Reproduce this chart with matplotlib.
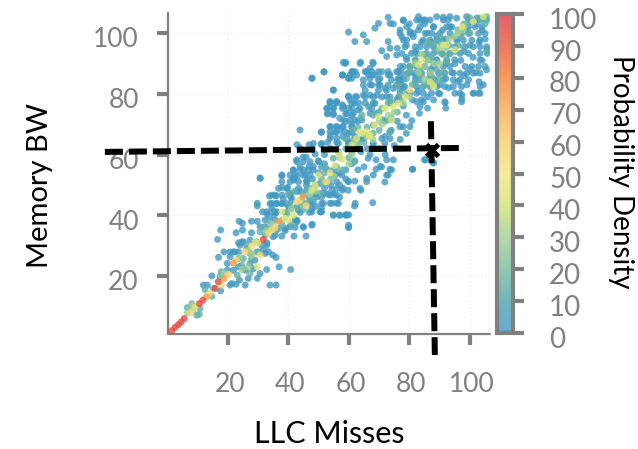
import numpy as np
import matplotlib
matplotlib.use("Agg")
import matplotlib.pyplot as plt
from matplotlib.colors import LinearSegmentedColormap
from matplotlib.transforms import ScaledTranslation

plt.rcParams['font.family'] = ['Lato', 'DejaVu Sans']

# points, grouped by the density colour they show
blue_density = 2
blue_pts = [
    (17.7,35.2),(16.7,32.1),(22.8,34.3),(24.9,35.2),(23.8,38.1),(24.9,37.4),(27.9,38.1),(29.8,38.1),(27.9,34.3),
    (32.9,41.2),(31.5,41.2),(29.8,44),(29.8,43.1),(33.8,46.4),(36,46.4),(30.7,52.3),(37.9,53.1),(37.9,49.2),(39.8,49.2),
    (41.9,51.6),(47.9,37.1),(45,36.3),(41.9,33.2),(37.9,33.2),(45.9,33.2),(54.9,40.1),(56.9,40.1),(58.9,40.1),(59.9,36),
    (53.8,44),(55.9,44),(50.8,41.2),(12,17.1),(13.3,17.1),(14.8,20.1),(17.7,15.2),(21.4,17.6),(20.8,17.1),(22.8,17.4),
    (23.9,18.7),(25.8,17.1),(29.8,19.3),(26.8,19.3),(30.7,20.9),(32.9,22.2),(34,17.1),(36,17.1),(37,23.1),(40.8,22.2),
    (17,26.2),(18.8,28),(19.9,24.2),(20.8,28),(21.9,28),(23.6,28),(24.7,31.3),(23.6,31),(32.4,27.5),(34.9,27),(36,26.2),
    (33,31),(35,33),(39,35),(43,38),(44,41),(47,41),(49,43),(47,46),(49,47),(51,46),(53,47),(55,47),(57,46),(52,49),
    (54,50),(57,50),(59,52),(38,44),(36,41),(40,43),(41,46),(44,48),(46,50),(48,52),(50,54),(51,56),(53,55),(55,55),
    (57,54),(59,55),(43,53),(45,55),
    (59.9,100.3),(59,90.3),(51.8,87.2),(47.9,85.2),(57.9,86.2),(59.9,85.2),(54.9,81.3),(59.9,79.3),(53.9,77.2),(55.9,77.2),
    (57.9,76.4),(52.9,75.3),(54.9,75.3),(52.9,73.4),(54.9,73.1),(59,73.4),(59.9,75.3),(43.9,68.1),(50.9,67.3),(53.9,69.2),
    (55.9,69.2),(53.9,66.2),(55.9,67.3),(57.9,69.2),(59,70.9),(57.1,68.1),(42.9,63.3),(46.9,63.3),(50.9,63.3),(43.9,62.2),
    (48.9,60.2),(44.9,59.2),(45.9,59.2),(42.8,58.3),(41.7,55),(43.9,56.1),(46.9,56.1),(48.3,56.1),(30.8,52.2),(41.7,52.2),
    (45,53.3),(52,60),(54,62),(50,58),(52,57),(48,62),(53,64),(56,64),(58,66),(60,67),(61,70),(63,71),(60,64),(62,66),
    (64,65),(57,72),(61,73),
    (73,105.2),(69.8,103.2),(68.6,101.6),(73.6,103.2),(74.7,103),(78,104.1),(64.8,99.4),(65.9,97.2),(62,97.2),(58.2,90.4),
    (63.9,90.4),(67.9,90.4),(70.9,94.2),(73,97.2),(73.6,95),(75.8,92.8),(72.5,92.3),(76.9,101),(77.5,98.8),(80.2,100.5),
    (81.3,98.8),(83,105.4),(85.2,104.3),(86.8,104.3),(89,105.4),(91.2,105.2),(93.4,105.4),(95.6,104.9),(98.9,105.4),
    (102.2,104.9),(105.5,94.5),(105.5,87.9),(104.4,83),(102.8,80.2),(97.3,79.6),(97.3,78.2),(95,80.2),(101.1,80.2),
    (91.8,77.1),(92,75.3),(86,75.3),(83.5,75.8),(83.3,73.6),(80.8,71.2),(80.2,69.2),(78,69.2),(85.2,58.3),(87.9,57.2),
    (81.1,55.2),(74.7,58.3),(72.5,58.3),(70.3,56.1),(72.5,53.3),(68.1,53.3),(73.6,55.2),(85,58.3),(88,57.4),(81,55.2),
    (71.9,51),(69,55.2),(64,48.3),(67.9,44.2),(61.9,43.1),(59.1,40.2),(60,40.2),(60,36.2),(59.8,48.3),(57.9,48.3),
    (65.9,52.2),(65.9,51.1),(62,51.3),(59.8,51.3),(73,53.3),(74.1,55),(70.8,56),(69,58.3),(66.4,58.8),
    (58,86.2),(61.3,87.3),(62.6,86.2),(64.8,84.6),(67,88.4),(67.6,86.2),(69.8,84.6),(65.4,87.3),(70.9,87.3),(73,86.2),
    (75.8,87.3),(74.1,84.6),(76.4,84.6),(67,83),(69.8,83),(72,81.8),(74.7,81.8),(69.2,79.6),(67,79.6),(64.8,79.6),
    (62.6,79.1),(60.4,78),(56,77.5),(53.8,77.5),(62,76.9),(58.2,75.8),(63.1,74.7),(66.5,75.8),(68.6,76.9),(72.5,79.1),
    (75.8,78),(78,76),(79,73),(76,71),(74,68),(72,66),(75,63),(77,65),(79,67),(70,62),(72,60),(67,60),(65,56),(63,55),
    (61,57),(68,63),(66,62),(64,61),
    (77,89),(79,92),(76,95),(79,96),(82,94),(84,97),(86,100),(88,102),(91,101),(94,102),(83,101),(85,103),(80,103),
    (87,97),(89,99),(92,98),(96,98),(99,101),(102,103),(104,101),(105,98),(103,97),(100,96),(98,94),(101,92),(104,91),
    (100,88),(102,87),(98,86),(96,84),(99,83),(103,84),(94,87),(92,85),(90,83),(93,82),(90,80),(88,78),(86,79),(84,78),
    (81,78),(83,81),(87,88),(89,91),(92,90),(95,90),(97,91),(78,85),(80,87),(82,86),(78,82),
]
# upper right cloud, second pass
blue_upper_pts = [
    (78,104.3),(82.4,104.3),(83.5,104.3),(84.6,104.3),(91.2,104.3),(92.8,104.3),(99.5,104.3),(103.3,104.3),(105.5,104.3),
    (79.1,102.1),(83.5,102.1),(87.9,102.1),(92.3,102.1),(93.4,102.1),(99.5,102.1),(101.7,102.1),(103.9,102.1),
    (76.9,99.9),(80.2,99.9),(81.3,99.9),(85.2,99.9),(87.4,99.9),(90.1,99.9),(93.4,99.9),(97.2,99.9),(99.5,99.9),(102.8,99.9),(105,99.9),
    (78,97.7),(79.1,97.7),(84.6,97.7),(86.8,97.7),(89,97.7),(91.2,97.7),(95.6,97.7),(97.8,97.7),(100.6,97.7),(103.3,97.7),
    (78.5,95.5),(81.9,95.5),(83.5,95.5),(85.7,95.5),(87.9,95.5),(92.3,95.5),(95,95.5),(98.4,95.5),(101.1,95.5),(103.3,95.5),(105.5,95.5),
    (77.5,93.3),(80.7,93.3),(82.4,93.3),(85.7,93.3),(87.9,93.3),(90.7,93.3),(93.4,93.3),(96.7,93.3),(99.5,93.3),(103.3,93.3),(105.7,93.3),
    (79.1,91.2),(81.9,91.2),(86.8,91.2),(89,91.2),(92.3,91.2),(95,91.2),(103.3,91.2),
    (78,89),(80.2,89),(82.4,89),(85.1,89),(87.9,89),(91.2,89),(93.4,89),(98.4,89),(100.6,89),(102.8,89),(105,89),
    (77.5,86.8),(79.6,86.8),(81.9,86.8),(84,86.8),(86.8,86.8),(89.6,86.8),(91.7,86.8),(94.5,86.8),(96.7,86.8),(98.9,86.8),(101.1,86.8),(103.3,86.8),
    (77.5,84.6),(81.9,84.6),(83.5,84.6),(86.3,84.6),(88.5,84.6),(91.2,84.6),(94.5,84.6),(96.7,84.6),(99.5,84.6),
    (78.5,82.4),(82.4,82.4),(84.6,82.4),(86.8,82.4),(89,82.4),(91.7,82.4),(94.5,82.4),(97.2,82.4),(103.3,82.4),
    (80.2,80.2),(82.4,80.2),(84.6,80.2),(87.3,80.2),(89.6,80.2),(96.7,80.2),(101.1,80.2),(103.3,80.2),
    (82.4,77.4),(84.6,77.4),(91.7,77.4),(97.2,77.4),
]
# middle cloud, second pass
blue_middle_pts = [
    (58.8,90),(63.7,90),(68.1,90),(51.8,87.3),(61,87.3),(62.1,87.3),(65.9,87.3),(67.6,87.3),(69.8,87.3),(73,87.3),(76.4,87.3),
    (57.9,86.2),(60.4,86.2),(66.5,86.2),(68.7,86.2),(73.6,86.2),(47.8,85.1),(59.9,85.1),(61,85.1),(67,85.1),(70.3,85.1),(76.4,85.1),
    (64.8,82.9),(67.6,82.9),(70.3,82.9),(73,82.9),(75.8,82.9),(77.5,82.9),(54.9,81.2),(65.4,81.2),(69.8,81.2),(72.5,81.2),(76.9,81.2),
    (59.9,79),(62.1,79),(65.4,79),(68.1,79),(70.9,79),(73.6,79),(76.4,79),
    (53.8,77),(56,77),(61,77),(63.2,77),(65.4,77),(68.1,77),(73.6,77),
    (52.7,75.2),(54.9,75.2),(57.9,75.2),(61,75.2),(63.7,75.2),(67.6,75.2),
    (53.2,73.6),(54.9,73.6),(59.3,73.6),(61.5,73.6),(67,73.6),(69.2,73.6),
    (58.2,71.4),(60.4,71.4),(62.1,71.4),(64.3,71.4),(71.4,71.4),
    (53.8,69.2),(56,69.2),(58.2,69.2),(60.9,69.2),(76.9,69.2),
    (51,67.5),(53.8,67.5),(55.4,67.5),(58.8,67.5),(60.9,67.5),(73.6,67.5),
    (53.8,65.3),(56,65.3),(59.3,65.3),(64.8,65.3),(70.9,65.3),(73.6,65.3),
    (48.3,63.7),(51,63.7),(56.6,63.7),(59.9,63.7),(68.1,63.7),(71.9,63.7),
    (42.8,57.7),(45,57.7),(47.2,57.7),(50,57.7),(41.7,54.9),(43.9,54.9),(46.7,54.9),(48.3,54.9),
    (37.9,53.3),(40.6,53.3),(42.3,53.3),(45.6,53.3),(55.5,53.3),(57.7,53.3),
    (37.9,51.1),(40.6,51.1),(43.4,51.1),(46.1,51.1),(56,51.1),(59.9,51.1),
    (36.8,48.9),(39.5,48.9),(43.4,48.9),(56,48.9),(58.2,48.9),(63.7,48.9),
    (34.6,46.7),(35.7,46.7),(37.9,46.7),(40.6,46.7),(53.8,46.7),(56,46.7),
    (34.6,44),(36.2,44),(47.2,44),(51.6,44),(54.4,44),(56.6,44),(62.1,44),
    (35.1,41.2),(36.2,41.2),(47.8,41.2),(50.5,41.2),(51,41.2),(54.9,40.1),(57.1,40.1),(59.3,40.1),
    (47.8,36.8),(59.9,36.8),(34.6,42.3),(47.8,42.3),(51,42.3),(35.7,38.5),(42.3,38.5),(42.3,36.1),(45,36.1),
]
# lower cloud, second pass
blue_lower_pts = [
    (20.8,26.4),(19.9,22),(21.9,22),(23.6,23.1),(25.8,22),(27.4,24.2),(28.5,22.5),(29,25.3),(30.2,28),(31.8,28.6),
    (32.9,30.2),(33.5,28),(31.3,30.2),(29.6,31.3),(27.4,31.9),(25.2,31.3),(24.1,30.2),(22.4,28),(32.4,36.3),(30.7,36.3),
    (32.4,38.5),(34,39.6),(35.7,40.6),(37.9,43.9),(39.5,43.9),(41.2,45),(40.6,42.3),(43.4,41.7),(42.8,38.5),(40.6,36.3),
    (39,35.7),(36.8,35.7),(35.7,33.5),(32.9,40.6),(34,43.9),(36.2,43.9),(38.4,45.6),(40.6,47.2),(42.8,47.8),(46.1,48.3),
    (48.3,44.5),(51,43.9),(49.4,46.1),(51.6,47.2),(54.4,48.3),(46.1,51.6),(47.2,53.3),(50.5,50.5),
]
teal_density = 15
teal_pts = [
    (6.7,9.7),(8.2,11),(10.7,7.5),(10.9,9.4),(9.8,7.2),(14.8,13.4),(12.6,15.6),(15.3,16),(17.9,21.5),(23.2,20.4),
    (27.4,20.9),(25.2,25.8),(27.9,25.8),(29.6,28),(26.3,30.2),(30.7,34.6),(32,36),(34,38),(36,35),(38,37),(39,41),
    (41,37),(43,43),(45,42),(40,47),(42,48),(45,47),(47,49),(49,50),(51,52),(46,44),(52,54),(54,52),(56,56),(58,55),
    (60,59),(62,58),(59,62),(61,61),(63,63),(65,64),(63,69),(66,69),(68,67),(70,68),(72,71),(68,73),(70,74),(64,72),
    (74,72),(76,74),(73,77),(77,78),(79,80),(81,83),(76,83),(79,85),(82,84),(84,86),(80,89),(82,91),(85,93),(87,92),
    (89,88),(91,87),(89,94),(91,93),(93,93),(86,97),(88,96),(90,97),(94,99),(93,96),(96,96),(96,101),(98,103),(100,100),
    (97,99),(100,105),(103,105),(105.5,105.4),(105,103),(87,86),(85,83),(88,84),(90,85),(83,88),
    (81.9,89.5),(80.2,87.9),(86.8,96.6),(90.1,98.8),(96.2,101),(100.5,103.8),(104.4,104.9),(86.3,84.6),(87.9,82.9),
    (79.6,86.8),(83.5,87.3),(89,90.6),(90.7,93.3),(92.3,90.6),(95,93.9),(97.8,95.5),(105.5,93.9),(87.9,85.1),(85.7,91.2),
    (70.9,75.2),(73.6,77.4),(76.9,80.1),(61.5,68.1),(64.3,73),(68.1,69.7),(73.6,71.4),(58.8,65.3),(56.6,61),(61.5,64.8),
    (65.4,66.4),(73.6,67.5),(50.5,47.3),(52.2,56),(54.9,58.8),(62,57.7),
    (17.5,20),(26.3,29.1),(27.4,27.5),(23.6,25.8),(24.7,23.6),(34,35.7),(32.4,33.5),(39.5,40.6),(40.6,43.4),(42.8,42.8),
    (45,43.9),(47.2,45.6),
]
green_density = 30
green_pts = [
    (6.7,8),(8.2,10.5),(8.7,9.1),(18.8,20.9),(24.7,22.2),(23.9,26.2),(26.9,28.6),(26.8,23.1),(28,27),(33,35),(35,37),
    (38,38.5),(41,42),(44,45),(47,47),(49,48),(52,51),(55,53),(57,59),(60,57),(61,60),(62,64),(66,66),(68,65),(71,70),
    (73,73),(75,74),(70,71),(78,77),(80,79),(83,87),(85,89),(86,91),(85,85),(88,83),(82,90),(84,93),(90,95),(92,95),
    (93,98),(95,99),(96,100),(97.8,101),(96.2,101),(98,102),(88,90),(90,90),(87,87),
]
pale_density = 43
pale_pts = [
    (9.3,10),(30,31),(29.8,23.1),(29.1,31.3),(39,39),(37.9,41.2),(40,38.5),(41.7,40.1),(47.8,48.3),(48.9,50),(50,53.3),
    (55.4,56.4),(58,58.5),(64.3,67),(65.9,67.6),(66.8,66.2),(68.6,69.8),(69.8,72.5),(72,75.3),(74.7,75.8),(76.4,76.9),
    (78.6,79.1),(86.8,84),(87.9,82.4),(84,91.2),(83,89.5),(91.2,96.1),(92.3,96.1),(95.1,94.5),(97.3,102.1),(101.1,103.8),
    (104.4,105.4),(61,63.2),(56.9,60.2),(71.9,75.2),(74.1,71.4),(67,66.4),(63.7,67.5),(62.6,65.3),
]
yellow_density = 56
yellow_pts = [
    (7.8,8),(14,14.3),(18,17.1),(20.3,20.6),(22.8,25.3),(25.8,28),(27.9,29.9),(30.7,27),(33.5,34.1),(34.6,35.2),(35.7,36),
    (42.8,44.5),(43.9,45),(45.9,43.2),(52.7,51.1),(53.8,54),(80.2,81.3),
]
orange_density = 74
orange_pts = [(12.9,13.2),(18.8,19.3),(21.9,24.4),(37,38.1),(44.8,46.1)]
red_density = 94
red_pts = [
    (1.6,2.1),(2.7,3.2),(3.8,4.1),(4.7,5),(5.7,6.1),(10.7,11),(11.8,12.1),(15.9,16),(16.9,18.2),(31.8,32.1),
]

x_ticks = [20, 40, 60, 80, 100]
y_ticks = [20, 40, 60, 80, 100]
cbar_ticks = [0, 10, 20, 30, 40, 50, 60, 70, 80, 90, 100]
# one colour per colorbar step, bottom to top
ramp_colors = ["#3f97c6", "#4fa3ad", "#75bd9f", "#a0d094", "#d2e473", "#f3e681",
               "#facf6d", "#faac51", "#f68334", "#eb5938", "#de3845"]

# dashed guides and the marked point
guide_h_x = [-20.5, 96.4]
guide_h_y = [60.9, 62.2]
guide_v_x = [87.1, 88.4]
guide_v_y = [71, -5.9]
marked_x = [87.3]
marked_y = [61.6]

GRAY = "#808080"
W, H = 638, 449

groups = [(blue_pts, blue_density), (blue_upper_pts, blue_density), (blue_middle_pts, blue_density),
          (blue_lower_pts, blue_density), (teal_pts, teal_density), (green_pts, green_density),
          (pale_pts, pale_density), (yellow_pts, yellow_density), (orange_pts, orange_density),
          (red_pts, red_density)]
xs, ys, ds = [], [], []
for pts, dens in groups:
    for px, py in pts:
        xs.append(px)
        ys.append(py)
        ds.append(dens)

cmap = LinearSegmentedColormap.from_list("ramp", ramp_colors)

fig = plt.figure(figsize=(W / 100, H / 100), dpi=100)
ax = fig.add_axes([168 / W, 1 - 334 / H, (490 - 168) / W, (334 - 13) / H])
sc = ax.scatter(xs, ys, c=ds, s=25, cmap=cmap, vmin=0, vmax=100, alpha=0.8, linewidths=0, zorder=3)
ax.set_xlim(0.33, 106.6)
ax.set_ylim(1, 106.6)
ax.set_xticks(x_ticks)
ax.set_yticks(y_ticks)

# very faint dotted grid
ax.grid(True, ls=':', color='#f0f0f0', lw=1.0, zorder=0)
ax.set_axisbelow(True)

for side in ['top', 'right']:
    ax.spines[side].set_visible(False)
for side in ['left', 'bottom']:
    ax.spines[side].set_color(GRAY)
    ax.spines[side].set_linewidth(1.6)
    ax.spines[side].set_capstyle('round')

ax.tick_params(axis='x', length=8, width=3, color=GRAY, labelcolor=GRAY, labelsize=19, pad=19)
ax.tick_params(axis='y', length=8, width=3, color=GRAY, labelcolor=GRAY, labelsize=19, pad=13)
for lbl in ax.get_xticklabels():
    lbl.set_transform(lbl.get_transform() + ScaledTranslation(1.5 / 72, 0, fig.dpi_scale_trans))
for lbl in ax.get_yticklabels():
    lbl.set_transform(lbl.get_transform() + ScaledTranslation(0, -3 / 72, fig.dpi_scale_trans))

# guides run past the axes on purpose
ax.plot(guide_h_x, guide_h_y, color='black', lw=4.32, dashes=(3, 1), dash_capstyle='butt', clip_on=False, zorder=5)
ax.plot(guide_v_x, guide_v_y, color='black', lw=4.32, dashes=(3, 1), dash_capstyle='butt', clip_on=False, zorder=5)
ax.plot(marked_x, marked_y, marker='x', color='black', ms=9, mew=3.5, ls='none', zorder=6)

fig.text(329 / W, 1 - 434 / H, "LLC Misses", fontsize=22, color='black', ha='center', va='center')
fig.text(40 / W, 1 - 186 / H, "Memory BW", fontsize=21, color='black', rotation=90, ha='center', va='center')

# colorbar
cax = fig.add_axes([497 / W, 1 - 333 / H, (513 - 497) / W, (333 - 14) / H])
cbar = fig.colorbar(sc, cax=cax)
cbar.set_ticks(cbar_ticks)
cbar.outline.set_edgecolor(GRAY)
cbar.outline.set_linewidth(3)
cax.tick_params(axis='y', length=8, width=3, color=GRAY, labelcolor=GRAY, labelsize=20, pad=18)
for lbl in cax.get_yticklabels():
    lbl.set_transform(lbl.get_transform() + ScaledTranslation(0, -3 / 72, fig.dpi_scale_trans))
fig.text(621 / W, 1 - 172 / H, "Probability Density", fontsize=20, color='black', rotation=270, ha='center', va='center')

fig.savefig("out.png", dpi=100)
plt.close(fig)
